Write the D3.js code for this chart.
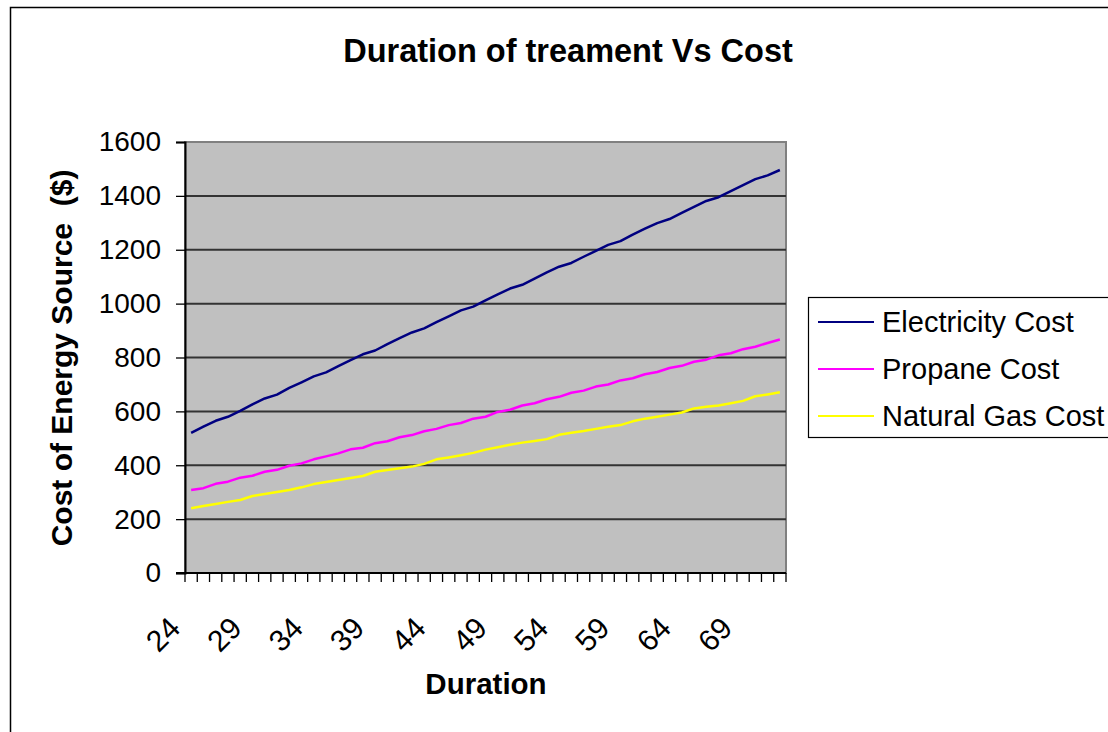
<!DOCTYPE html>
<html>
<head>
<meta charset="utf-8">
<script src="https://cdn.jsdelivr.net/npm/d3@7/dist/d3.min.js"></script>
<style>
  html, body { margin: 0; padding: 0; background: #fff; }
  svg { display: block; }
  text { font-family: "Liberation Sans", Arial, sans-serif; fill: #000; }
</style>
</head>
<body>
<svg id="chart" width="1108" height="732"></svg>
<script>
// Treatment duration (days) on the category axis
const durations = [24,25,26,27,28,29,30,31,32,33,34,35,36,37,38,39,40,41,42,43,44,45,46,47,48,
                   49,50,51,52,53,54,55,56,57,58,59,60,61,62,63,64,65,66,67,68,69,70,71,72];

// Cost of each energy source ($)
const electricityCost = [520,543,565,580,602,626,648,662,687,708,730,745,768,790,812,826,850,872,893,908,
                         931,953,975,989,1012,1034,1056,1070,1093,1116,1137,1151,1174,1196,1218,1232,1256,1278,1299,1314,
                         1337,1359,1381,1395,1418,1440,1462,1476,1496];
const propaneCost = [308,315,331,339,354,361,376,383,398,407,422,433,444,459,465,482,489,504,512,526,
                     535,549,557,573,580,598,606,622,630,645,654,669,677,692,700,715,723,738,746,761,
                     769,784,792,808,816,831,840,854,867];
const naturalGasCost = [240,249,256,264,271,286,293,301,308,318,330,338,345,353,360,376,382,389,395,405,
                        422,429,437,446,458,467,476,484,490,497,513,521,527,535,543,549,563,573,580,588,
                        596,611,617,622,630,639,656,663,671];

const seriesNames = ["Electricity Cost", "Propane Cost", "Natural Gas Cost"];
const seriesColors = ["#000080", "#ff00ff", "#ffff00"];
const seriesValues = [electricityCost, propaneCost, naturalGasCost];

const yTicks = [0,200,400,600,800,1000,1200,1400,1600];
const xLabelEvery = 5;

const svg = d3.select("#chart");

// outer chart frame
svg.append("rect")
  .attr("x", 10.5).attr("y", 7.5)
  .attr("width", 1130).attr("height", 760)
  .attr("fill", "#fff").attr("stroke", "#000").attr("stroke-width", 1.5);

const plot = { left: 185, right: 786, top: 142, bottom: 573 };

const x = d3.scaleBand().domain(durations).range([plot.left, plot.right]).paddingInner(0).paddingOuter(0);
const y = d3.scaleLinear().domain([0, 1600]).range([plot.bottom, plot.top]);

// plot area
svg.append("rect")
  .attr("x", plot.left).attr("y", plot.top)
  .attr("width", plot.right - plot.left).attr("height", plot.bottom - plot.top)
  .attr("fill", "#c0c0c0").attr("stroke", "#808080").attr("stroke-width", 2);

// horizontal gridlines
svg.append("g").selectAll("line")
  .data(yTicks.filter(d => d > 0 && d < 1600))
  .join("line")
  .attr("x1", plot.left).attr("x2", plot.right)
  .attr("y1", d => y(d)).attr("y2", d => y(d))
  .attr("stroke", "#333").attr("stroke-width", 2);

// y axis
const yAxis = d3.axisLeft(y).tickValues(yTicks).tickSize(9).tickPadding(15).tickFormat(d3.format("d"));
const gy = svg.append("g").attr("transform", `translate(${plot.left},0)`).call(yAxis);
gy.select(".domain").attr("stroke", "#000").attr("stroke-width", 2);
gy.selectAll(".tick line").attr("stroke", "#000").attr("stroke-width", 1.3);
gy.selectAll(".tick text")
  .attr("font-size", 28).attr("font-family", "Liberation Sans, Arial, sans-serif").attr("fill", "#000");

// x axis: tick marks at category boundaries
const boundaries = durations.map(d => x(d)).concat([x(durations[durations.length - 1]) + x.bandwidth()]);
const gx = svg.append("g");
gx.append("line")
  .attr("x1", plot.left - 9).attr("x2", plot.right)
  .attr("y1", plot.bottom).attr("y2", plot.bottom)
  .attr("stroke", "#000").attr("stroke-width", 2);
gx.selectAll("line.tk")
  .data(boundaries)
  .join("line").attr("class", "tk")
  .attr("x1", d => d).attr("x2", d => d)
  .attr("y1", plot.bottom).attr("y2", plot.bottom + 9)
  .attr("stroke", "#000").attr("stroke-width", 1.3);

// rotated category labels
gx.selectAll("text")
  .data(durations.filter((d, i) => i % xLabelEvery === 0))
  .join("text")
  .attr("transform", d => `translate(${x(d) + x.bandwidth() / 2 - 9},630) rotate(-45)`)
  .attr("text-anchor", "end")
  .attr("font-size", 30)
  .text(d => d);

// series lines
const line = d3.line()
  .x((d, i) => x(durations[i]) + x.bandwidth() / 2)
  .y(d => y(d));

svg.append("g").selectAll("path")
  .data(seriesValues)
  .join("path")
  .attr("d", d => line(d))
  .attr("fill", "none")
  .attr("stroke", (d, i) => seriesColors[i])
  .attr("stroke-width", 2.5)
  .attr("stroke-linejoin", "round");

// titles
svg.append("text")
  .attr("x", 568).attr("y", 62)
  .attr("text-anchor", "middle")
  .attr("font-size", 32.5).attr("font-weight", "bold")
  .text("Duration of treament Vs Cost");

svg.append("text")
  .attr("x", 486).attr("y", 694)
  .attr("text-anchor", "middle")
  .attr("font-size", 29.5).attr("font-weight", "bold")
  .text("Duration");

svg.append("text")
  .attr("transform", "translate(72,358) rotate(-90)")
  .attr("text-anchor", "middle")
  .attr("font-size", 30).attr("font-weight", "bold")
  .style("white-space", "pre")
  .text("Cost of Energy Source  ($)");

// legend
const legend = svg.append("g");
legend.append("rect")
  .attr("x", 808.5).attr("y", 297.5)
  .attr("width", 330).attr("height", 140)
  .attr("fill", "#fff").attr("stroke", "#000").attr("stroke-width", 1.2);
const rows = legend.selectAll("g.row")
  .data(seriesNames)
  .join("g").attr("class", "row")
  .attr("transform", (d, i) => `translate(0,${322 + i * 47})`);
rows.append("line")
  .attr("x1", 818).attr("x2", 874)
  .attr("y1", 0).attr("y2", 0)
  .attr("stroke", (d, i) => seriesColors[i]).attr("stroke-width", 2);
rows.append("text")
  .attr("x", 882).attr("y", 0).attr("dy", "0.35em")
  .attr("font-size", 29)
  .text(d => d);
</script>
</body>
</html>
